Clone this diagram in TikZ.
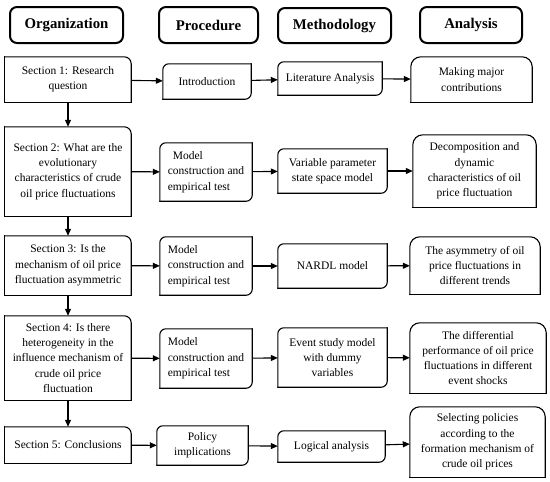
\documentclass[tikz,border=0pt]{standalone}
\usepackage{fontspec}
\setmainfont{Liberation Serif}
\usetikzlibrary{arrows.meta}

%frame with only the top right corner rounded
\newcommand{\frameTR}[1]{
  \draw[frame, rounded corners=7pt] (#1.north west) -- (#1.north east) -- (#1.south east);
  \draw[frame] (#1.south east) -- (#1.south west) -- (#1.north west);
}
%frame with top left and bottom right corners rounded
\newcommand{\frameDiag}[1]{
  \draw[frame, rounded corners=6pt] (#1.south west) -- (#1.north west) -- (#1.north east);
  \draw[frame, rounded corners=6pt] (#1.north east) -- (#1.south east) -- (#1.south west);
}
%frame with both top corners rounded
\newcommand{\frameTop}[1]{
  \draw[frame, rounded corners=10pt] (#1.south west) -- (#1.north west) -- (#1.north east) -- (#1.south east);
  \draw[frame] (#1.south east) -- (#1.south west);
}

\begin{document}
\begin{tikzpicture}[x=1pt, y=-1pt,
  head/.style 2 args={draw, line width=2pt, rounded corners=7pt, minimum width=#1, minimum height=#2,
    inner sep=0pt, font=\fontsize{14.8}{18}\selectfont\bfseries},
  cell/.style 2 args={minimum width=#1, minimum height=#2, inner xsep=3pt, inner ysep=0pt,
    align=center, font=\fontsize{11.5}{15.3}\selectfont},
  frame/.style={line width=1.1pt, line cap=rect},
  arr/.style={-{Triangle[length=7pt, width=6pt]}, line width=1.1pt}]
  \useasboundingbox (0,0) rectangle (550,482);
  %headers
  \node[head={113pt}{36pt}] (hOrg) at (66.5,25) {Organization};
  \node[head={99pt}{36pt}] (hProc) at (208.5,25) {Procedure};
  \node[head={113pt}{35pt}] (hMeth) at (334.5,25.5) {Methodology};
  \node[head={102pt}{36pt}] (hAna) at (471,25) {Analysis};
  %organization column
  \node[cell={126pt}{45pt}] (s1) at (68,79.5) {Section 1: Research\\question};
  \node[cell={126pt}{89pt}] (s2) at (68,171.5) {Section 2: What are the\\evolutionary\\characteristics of crude\\oil price fluctuations};
  \node[cell={126pt}{59pt}] (s3) at (68,265.5) {Section 3: Is the\\mechanism of oil price\\fluctuation asymmetric};
  \node[cell={126pt}{84pt}] (s4) at (68,358) {Section 4: Is there\\heterogeneity in the\\influence mechanism of\\crude oil price\\fluctuation};
  \node[cell={126pt}{36pt}] (s5) at (68,445) {Section 5: Conclusions};
  %procedure column
  \node[cell={88pt}{35pt}] (p1) at (207,81.5) {Introduction};
  \node[cell={92pt}{58pt}, align=left] (p2) at (206,172) {\hspace*{5pt}Model\\construction and\\empirical test};
  \node[cell={92pt}{58pt}, align=left] (p3) at (206,266) {Model\\construction and\\empirical test};
  \node[cell={92pt}{59pt}, align=left] (p4) at (206,358.5) {Model\\construction and\\empirical test};
  \node[cell={91pt}{39pt}] (p5) at (202.5,445.5) {Policy\\implications};
  %methodology column
  \node[cell={104pt}{33pt}] (m1) at (330,78.5) {Literature Analysis};
  \node[cell={109pt}{44pt}] (m2) at (332.5,171) {Variable parameter\\state space model};
  \node[cell={109pt}{44pt}] (m3) at (332.5,266) {NARDL model};
  \node[cell={109pt}{59pt}] (m4) at (332.5,357.5) {Event study model\\with dummy\\variables};
  \node[cell={107pt}{31pt}] (m5) at (331.5,446.5) {Logical analysis};
  %analysis column
  \node[cell={121pt}{45pt}] (a1) at (471.5,79.5) {Making major\\contributions};
  \node[cell={123pt}{72pt}] (a2) at (474.5,171) {Decomposition and\\dynamic\\characteristics of oil\\price fluctuation};
  \node[cell={130pt}{57pt}] (a3) at (475,265.5) {The asymmetry of oil\\price fluctuations in\\different trends};
  \node[cell={136pt}{70pt}] (a4) at (478,358) {The differential\\performance of oil price\\fluctuations in different\\event shocks};
  \node[cell={135pt}{70pt}] (a5) at (477.5,442) {Selecting policies\\according to the\\formation mechanism of\\crude oil prices};
  %frames
  \frameTR{s1} \frameTR{s2} \frameTR{s3} \frameTR{s4} \frameTR{s5}
  \frameDiag{p1} \frameDiag{p2} \frameDiag{p3} \frameDiag{p4} \frameDiag{p5}
  \frameDiag{m1} \frameDiag{m2} \frameDiag{m3} \frameDiag{m4} \frameDiag{m5}
  \frameTop{a1} \frameTop{a2} \frameTop{a3} \frameTop{a4} \frameTop{a5}
  %arrows down the organization column
  \draw[arr] (s1) -- (s2);
  \draw[arr] (s2) -- (s3);
  \draw[arr] (s3) -- (s4);
  \draw[arr] (s4) -- (s5);
  %arrows along each row
  \draw[arr] (s1) -- (p1);
  \draw[arr] (p1) -- (m1);
  \draw[arr] (m1) -- (a1);
  \draw[arr] (s2) -- (p2);
  \draw[arr] (p2) -- (m2);
  \draw[arr] (m2) -- (a2);
  \draw[arr] (s3) -- (p3);
  \draw[arr] (p3) -- (m3);
  \draw[arr] (m3) -- (a3);
  \draw[arr] (s4) -- (p4);
  \draw[arr] (p4) -- (m4);
  \draw[arr] (m4) -- (a4);
  \draw[arr] (s5) -- (p5);
  \draw[arr] (p5) -- (m5);
  \draw[arr] (m5) -- (a5);
\end{tikzpicture}
\end{document}
